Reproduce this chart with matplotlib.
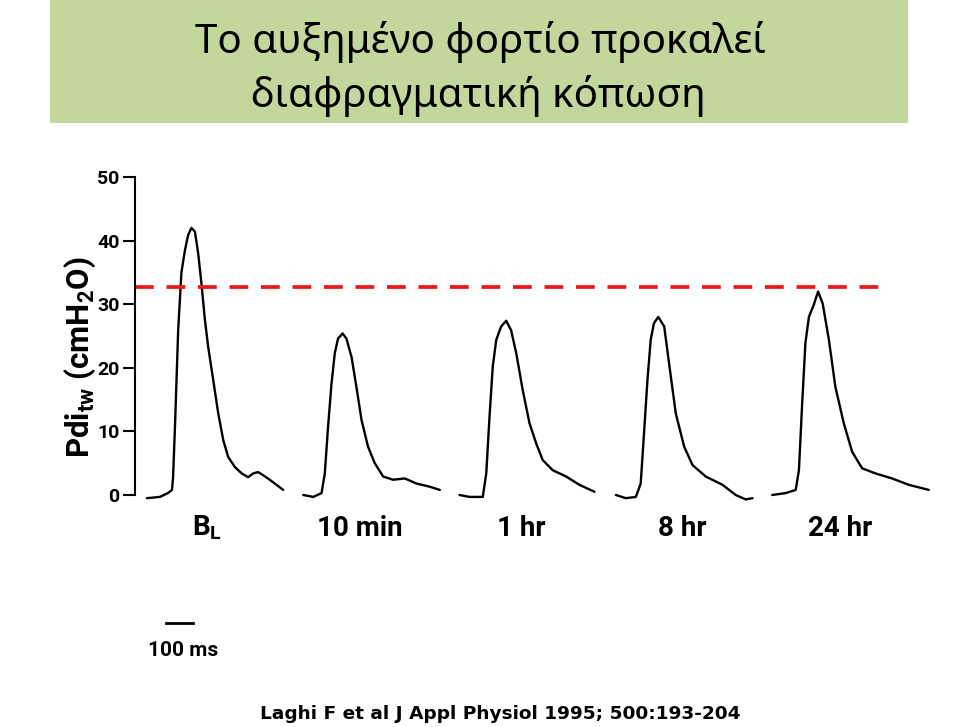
import matplotlib.pyplot as plt
from matplotlib.patches import Rectangle

# Title, labels and citation
title_lines = ["Το αυξημένο φορτίο προκαλεί", "διαφραγματική κόπωση"]
trace_labels = [r"B$_\mathbf{L}$", "10 min", "1 hr", "8 hr", "24 hr"]
citation = "Laghi F et al J Appl Physiol 1995; 500:193-204"
yticks = [0, 10, 20, 30, 40, 50]
ref_level = 32.7  # red dashed reference line (cmH2O)
scale_ms = 100

# Twitch traces: time since trace start (ms) and Pdi,tw (cmH2O)
t_bl = [0, 48, 78, 93, 97, 104, 116, 128, 141, 153, 165, 178, 190, 202, 215,
        227, 246, 264, 283, 301, 326, 351, 375, 394, 412, 431, 455, 480, 505]
p_bl = [-0.5, -0.3, 0.3, 0.8, 2.8, 10.7, 26, 35, 38.5, 40.9, 42, 41.4, 38, 33.3, 27.5,
        23.3, 18, 12.9, 8.6, 6, 4.4, 3.4, 2.8, 3.4, 3.6, 3.1, 2.4, 1.6, 0.8]

t_10min = [0, 37, 68, 80, 92, 105, 117, 129, 146, 160, 179, 197, 216, 240, 265,
           296, 333, 376, 420, 469, 506]
p_10min = [0, -0.3, 0.3, 3.4, 10.7, 17.6, 22.3, 24.6, 25.4, 24.6, 21.7, 17, 11.8, 7.6, 5,
           2.9, 2.4, 2.6, 1.8, 1.3, 0.8]

t_1hr = [0, 37, 86, 99, 111, 123, 136, 154, 173, 191, 210, 234, 259, 284, 308,
         345, 395, 444, 500]
p_1hr = [0, -0.3, -0.3, 3.4, 12.3, 20.2, 24.4, 26.5, 27.4, 25.9, 22.3, 16.5, 11.3, 8.1, 5.5,
         3.9, 2.9, 1.6, 0.5]

t_8hr = [0, 37, 74, 92, 105, 117, 129, 141, 157, 179, 197, 222, 253, 284, 333,
         395, 444, 481, 506]
p_8hr = [0, -0.5, -0.3, 1.8, 10.2, 18.1, 24.4, 27, 28, 26.5, 20.7, 12.8, 7.6, 4.7, 2.9,
         1.6, 0, -0.7, -0.5]

t_24hr = [0, 50, 87, 99, 111, 123, 136, 154, 170, 187, 210, 234, 265, 296, 333,
          382, 444, 506, 580]
p_24hr = [0, 0.3, 0.8, 3.9, 14.4, 23.9, 28, 29.9, 32, 30.1, 24.4, 17, 11.3, 6.8, 4.2,
          3.4, 2.6, 1.6, 0.8]

traces = [(t_bl, p_bl), (t_10min, p_10min), (t_1hr, p_1hr), (t_8hr, p_8hr), (t_24hr, p_24hr)]

# layout
W, H = 960, 727
first_onset = 44    # ms from the y axis to the first trace
spacing = 579       # ms between trace starts
ref_end = 2775      # ms where the dashed line stops

plt.rcParams['mathtext.fontset'] = 'custom'
plt.rcParams['mathtext.rm'] = 'Roboto:bold'
plt.rcParams['mathtext.bf'] = 'Roboto:bold'
scan_font = ['Roboto', 'DejaVu Sans']

fig = plt.figure(figsize=(W / 100, H / 100), dpi=100)
fig.patch.set_facecolor('white')

# green title box
fig.patches.append(Rectangle((50 / W, 1 - 123 / H), 858 / W, 123 / H,
                             transform=fig.transFigure, facecolor='#c3d69b',
                             edgecolor='none', zorder=0))
fig.text(480 / W, 1 - 42 / H, title_lines[0], ha='center', va='center',
         fontsize=29, family='Noto Sans', color='black')
fig.text(478 / W, 1 - 96 / H, title_lines[1], ha='center', va='center',
         fontsize=29, family='Noto Sans', color='black')

# axes: y=0 at px 495, y=50 at px 177; 100 ms = 27 px
ppu = (495 - 177) / 50
ms_per_px = 100 / 27
ylo, yhi = -2, 52
ax_bottom = (H - (495 + 2 * ppu)) / H
ax_height = (yhi - ylo) * ppu / H
ax_left = 135 / W
ax_width = 805 / W
ax = fig.add_axes([ax_left, ax_bottom, ax_width, ax_height])
ax.set_xlim(0, 805 * ms_per_px)
ax.set_ylim(ylo, yhi)
ax.patch.set_alpha(0)

for i, (t, p) in enumerate(traces):
    off = first_onset + i * spacing
    ax.plot([off + v for v in t], p, color='black', lw=1.7,
            solid_joinstyle='round', solid_capstyle='round')

ax.plot([0, ref_end], [ref_level, ref_level], color='#e8191a', lw=2.7,
        dashes=(5.0, 3.4))

for s in ['top', 'right', 'bottom']:
    ax.spines[s].set_visible(False)
ax.spines['left'].set_bounds(0, 50)
ax.spines['left'].set_linewidth(1.5)
ax.set_xticks([])
ax.set_yticks(yticks)
ax.set_yticklabels([str(v) for v in yticks], family=scan_font, fontweight='bold',
                   fontsize=14)
ax.tick_params(axis='y', length=9, width=1.5, pad=2)

fig.text(80 / W, 1 - 357 / H, r'Pdi$_{\mathbf{tw}}$ (cmH$_\mathbf{2}$O)',
         rotation=90, ha='center', va='center', fontsize=22.5,
         family=scan_font, fontweight='bold')

# trace labels
label_x = [207, 360, 521, 682, 840]
for lx, lab in zip(label_x, trace_labels):
    fig.text(lx / W, 1 - 528 / H, lab, ha='center', va='center', fontsize=20,
             family=scan_font, fontweight='bold')

# 100 ms scale bar
bar_y = (495 - 623) / ppu
bar_x0 = (166 - 135) * ms_per_px
ax.plot([bar_x0, bar_x0 + scale_ms], [bar_y, bar_y], color='black', lw=2,
        clip_on=False)
fig.text(183 / W, 1 - 650 / H, f'{scale_ms} ms', ha='center', va='center',
         fontsize=15, family=scan_font, fontweight='bold')

fig.text(500 / W, 1 - 714 / H, citation, ha='center', va='center',
         fontsize=13.3, family='DejaVu Sans', fontweight='bold')

fig.savefig('out.png', dpi=100)
